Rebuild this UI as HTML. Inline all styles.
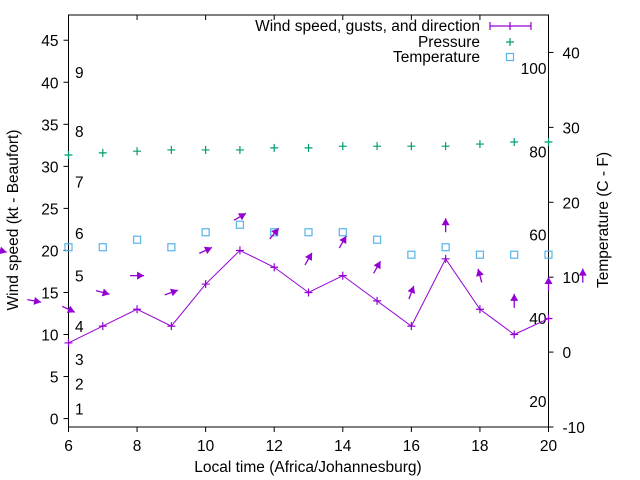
<!DOCTYPE html>
<html><head><meta charset="utf-8"><style>
html,body{margin:0;padding:0;background:#fff;}
svg{display:block;font-family:"Liberation Sans",sans-serif;}
</style></head><body>
<svg id="chart" width="640" height="480" viewBox="0 0 640 480" xmlns="http://www.w3.org/2000/svg">
<g id="grid"></g>
<g id="marks"></g>
<g id="legend"></g>
<text x="308" y="472" font-size="15.5" text-anchor="middle" fill="#000">Local time (Africa/Johannesburg)</text>
<text transform="translate(18,220) rotate(-90)" font-size="15.5" text-anchor="middle" fill="#000">Wind speed (kt - Beaufort)</text>
<text transform="translate(608,220) rotate(-90)" font-size="15.5" text-anchor="middle" fill="#000">Temperature (C - F)</text>
</svg>
<script>
const hours = [6,7,8,9,10,11,12,13,14,15,16,17,18,19,20];
const windSpeed = [9,11,13,11,16,20,18,15,17,14,11,19,13,10,11.9];
const pressure = [31.35,31.6,31.8,31.95,31.95,31.95,32.2,32.2,32.4,32.4,32.4,32.4,32.65,32.9,32.9];
const temperature = [14,14,15,14,16,17,16,16,16,15,13,14,13,13,13];
const arrowHours = [4,5,6,7,8,9,10,11,12,13,14,15,16,17,18,19,20,21];
const gusts = [20,14,13,15,17,15,20,24,22,19,21,18,15,23,17,14,16,17];
const windAngle = [-15,-10,-25,-15,0,20,25,30,50,60,60,60,70,90,105,90,90,90];
const xTicks = [6,8,10,12,14,16,18,20];
const yTicks = [0,5,10,15,20,25,30,35,40,45];
const y2Ticks = [-10,0,10,20,30,40];
const beaufortLabels = ["1","2","3","4","5","6","7","8","9"];
const beaufortKt = [1.2,4.2,7.1,11,17,22.1,28.2,34.2,41.2];
const fahrenheitLabels = ["20","40","60","80","100"];

const L=68.5,R=548.5,T=15,B=427;
const X=h=>L+(h-6)*(R-L)/14;
const Y=v=>T+(48-v)*(B-T)/49;
const Y2=c=>T+(45-c)*(B-T)/55;
const NS="http://www.w3.org/2000/svg";
function mk(tag,attrs,parent){const e=document.createElementNS(NS,tag);for(const k in attrs)e.setAttribute(k,attrs[k]);parent.appendChild(e);return e;}
const grid=document.getElementById('grid'),marks=document.getElementById('marks'),leg=document.getElementById('legend');

let f=mk('path',{d:`M${L},${T}H${R}V${B}H${L}Z`,fill:'none',stroke:'#000','stroke-width':1},grid);


xTicks.forEach(h=>{
  const x=X(h);
  mk('line',{x1:x,y1:B,x2:x,y2:B+5,stroke:'#000'},grid);
  mk('line',{x1:x,y1:T,x2:x,y2:T+5,stroke:'#000'},grid);
  const t=mk('text',{x:x,y:B+24,'font-size':15.5,'text-anchor':'middle'},grid);t.textContent=h;
  
  
});
yTicks.forEach(v=>{
  const y=Y(v);
  mk('line',{x1:L-5,y1:y,x2:L,y2:y,stroke:'#000'},grid);
  const t=mk('text',{x:L-10,y:y+6,'font-size':15.5,'text-anchor':'end'},grid);t.textContent=v;
  
  
});
y2Ticks.forEach(v=>{
  const y=Y2(v);
  mk('line',{x1:R,y1:y,x2:R+5,y2:y,stroke:'#000'},grid);
  const t=mk('text',{x:R+14,y:y+6,'font-size':15.5},grid);t.textContent=v;
  
  
});
beaufortLabels.forEach((s,i)=>{
  const t=mk('text',{x:75,y:Y(beaufortKt[i])+6,'font-size':15.5},grid);t.textContent=s;
  
  
});
fahrenheitLabels.forEach(s=>{
  const c=(parseFloat(s)-32)*5/9;
  const t=mk('text',{x:R-2,y:Y2(c)+5,'font-size':15.5,'text-anchor':'end'},grid);t.textContent=s;
  
  
});

const pl=mk('polyline',{points:hours.map((h,i)=>X(h)+','+Y(windSpeed[i])).join(' '),fill:'none',stroke:'#9400d3','stroke-width':1},marks);


function plus(x,y,col,name){const p=mk('path',{d:`M${x-4},${y}H${x+4}M${x},${y-4}V${y+4}`,stroke:col,'stroke-width':1.2},marks);
  
  }
hours.forEach((h,i)=>plus(X(h),Y(windSpeed[i]),'#9400d3','wind-speed-point'));
hours.forEach((h,i)=>plus(X(h),Y(pressure[i]),'#009e73','pressure-point'));
hours.forEach((h,i)=>{
  const r=mk('rect',{x:X(h)-3.5,y:Y2(temperature[i])-3.5,width:7,height:7,fill:'none',stroke:'#56b4e9','stroke-width':1.2},marks);
  
  
});
arrowHours.forEach((h,i)=>{
  const a=windAngle[i]*Math.PI/180,len=14,cx=X(h),cy=Y(gusts[i]);
  const dx=Math.cos(a),dy=-Math.sin(a);
  const x1=cx-dx*len/2,y1=cy-dy*len/2,x2=cx+dx*len/2,y2=cy+dy*len/2;
  const g=mk('g',{},marks);
  
  
  mk('line',{x1,y1,x2,y2,stroke:'#9400d3','stroke-width':1.3},g);
  const px=-dy,py=dx,hl=7,hw=4;
  const bx=x2-dx*hl,by=y2-dy*hl;
  mk('path',{d:`M${x2},${y2}L${bx+px*hw},${by+py*hw}L${bx-px*hw},${by-py*hw}Z`,fill:'#9400d3'},g);
});

[["Wind speed, gusts, and direction",26],["Pressure",42],["Temperature",57]].forEach(([s,y],i)=>{
  const t=mk('text',{x:480,y:y+5,'font-size':15.5,'text-anchor':'end'},leg);t.textContent=s;
  
  
});
mk('path',{d:'M490,26H531M490,22V30M531,22V30M506,26H514M510,22V30',stroke:'#9400d3','stroke-width':1.2,fill:'none'},leg);
mk('path',{d:'M506,42H514M510,38V46',stroke:'#009e73','stroke-width':1.2},leg);
mk('rect',{x:506.5,y:53.5,width:7,height:7,fill:'none',stroke:'#56b4e9','stroke-width':1.2},leg);
</script>
</body></html>
